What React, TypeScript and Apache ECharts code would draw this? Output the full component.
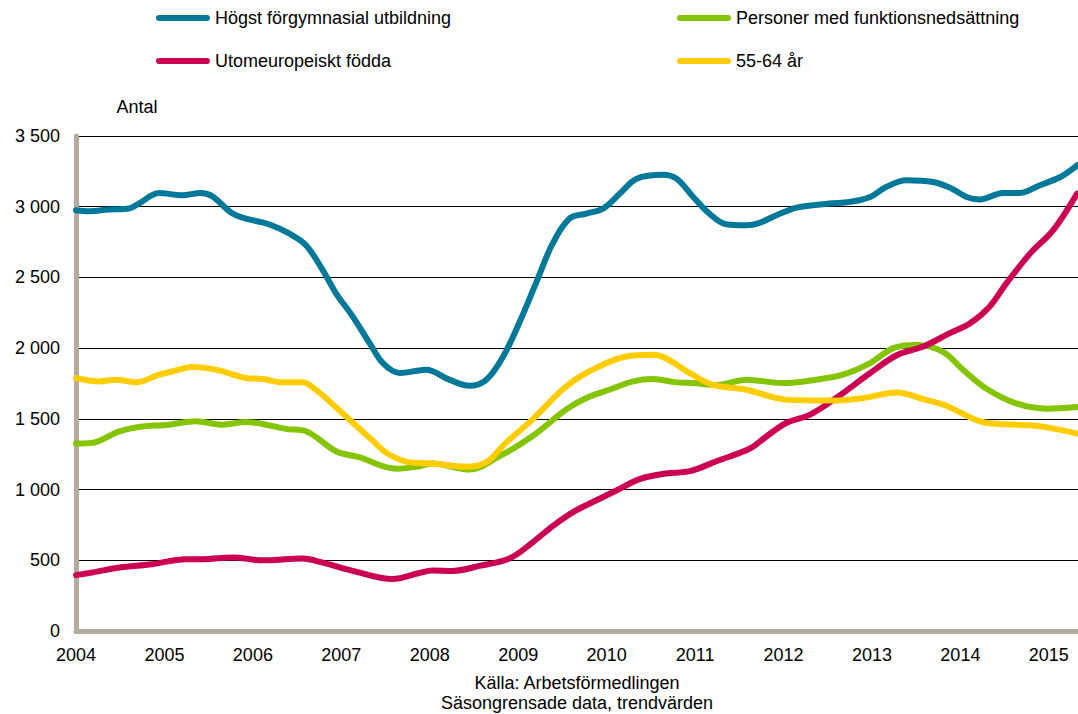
import React, { useEffect, useRef } from "react";
import * as echarts from "echarts";

// x positions are decimal years, values are "Antal"
const blueX = [2004.0, 2004.15, 2004.37, 2004.6, 2004.71, 2004.94, 2005.2, 2005.41, 2005.54, 2005.77, 2005.96, 2006.18, 2006.41, 2006.6, 2006.79, 2006.94, 2007.13, 2007.32, 2007.47, 2007.66, 2007.96, 2008.22, 2008.45, 2008.64, 2008.83, 2009.01, 2009.2, 2009.39, 2009.58, 2009.77, 2009.96, 2010.15, 2010.34, 2010.64, 2010.79, 2010.98, 2011.16, 2011.35, 2011.58, 2011.73, 2011.92, 2012.15, 2012.52, 2012.75, 2012.98, 2013.16, 2013.39, 2013.69, 2013.88, 2014.07, 2014.22, 2014.48, 2014.67, 2014.9, 2015.13, 2015.32];
const blueY = [2975, 2968, 2980, 2987, 3022, 3097, 3081, 3097, 3074, 2952, 2910, 2876, 2811, 2728, 2552, 2388, 2223, 2035, 1894, 1824, 1847, 1777, 1734, 1777, 1941, 2176, 2458, 2740, 2916, 2952, 2987, 3093, 3198, 3226, 3198, 3069, 2952, 2876, 2869, 2886, 2940, 2994, 3022, 3034, 3069, 3140, 3187, 3175, 3135, 3069, 3051, 3097, 3097, 3152, 3210, 3293];

const greenX = [2004.0, 2004.18, 2004.49, 2004.71, 2005.05, 2005.35, 2005.66, 2005.92, 2006.11, 2006.37, 2006.6, 2006.94, 2007.2, 2007.62, 2007.88, 2008.03, 2008.45, 2008.79, 2009.16, 2009.54, 2009.77, 2010.03, 2010.3, 2010.52, 2010.79, 2010.98, 2011.24, 2011.58, 2011.99, 2012.37, 2012.67, 2012.98, 2013.24, 2013.5, 2013.8, 2014.03, 2014.3, 2014.64, 2014.98, 2015.32];
const greenY = [1325, 1330, 1412, 1443, 1459, 1483, 1459, 1478, 1464, 1429, 1412, 1271, 1229, 1147, 1165, 1185, 1142, 1236, 1377, 1565, 1648, 1706, 1765, 1782, 1758, 1753, 1740, 1777, 1753, 1777, 1812, 1894, 2000, 2023, 1976, 1847, 1711, 1607, 1572, 1584];

const redX = [2004.0, 2004.22, 2004.49, 2004.86, 2005.24, 2005.43, 2005.77, 2006.11, 2006.56, 2006.79, 2007.13, 2007.58, 2007.88, 2008.03, 2008.26, 2008.56, 2008.9, 2009.16, 2009.39, 2009.62, 2009.92, 2010.15, 2010.38, 2010.67, 2010.94, 2011.24, 2011.62, 2011.81, 2012.03, 2012.3, 2012.6, 2012.98, 2013.28, 2013.58, 2013.88, 2014.11, 2014.33, 2014.52, 2014.79, 2015.05, 2015.32];
const redY = [395, 418, 449, 472, 508, 508, 520, 500, 512, 484, 425, 367, 410, 428, 425, 460, 512, 625, 742, 841, 935, 1006, 1076, 1114, 1130, 1200, 1290, 1377, 1471, 1530, 1650, 1824, 1950, 2011, 2106, 2176, 2293, 2458, 2670, 2834, 3093];

const yellowX = [2004.0, 2004.26, 2004.45, 2004.68, 2004.94, 2005.09, 2005.32, 2005.62, 2005.92, 2006.11, 2006.34, 2006.56, 2006.71, 2007.01, 2007.32, 2007.54, 2007.81, 2008.03, 2008.41, 2008.64, 2008.86, 2009.16, 2009.5, 2009.77, 2010.22, 2010.52, 2010.67, 2010.94, 2011.2, 2011.58, 2012.03, 2012.56, 2012.9, 2013.28, 2013.58, 2013.84, 2014.26, 2014.79, 2015.01, 2015.32];
const yellowY = [1789, 1765, 1777, 1758, 1812, 1835, 1866, 1842, 1789, 1782, 1758, 1758, 1706, 1542, 1366, 1248, 1189, 1184, 1161, 1194, 1330, 1495, 1706, 1824, 1941, 1953, 1929, 1824, 1741, 1706, 1636, 1629, 1647, 1687, 1640, 1593, 1476, 1454, 1436, 1396];

const seriesNames = [
  "Högst förgymnasial utbildning",
  "Personer med funktionsnedsättning",
  "Utomeuropeiskt födda",
  "55-64 år",
];
const seriesColors = ["#00789a", "#84c400", "#cc0052", "#ffcc00"];
const seriesX = [blueX, greenX, redX, yellowX];
const seriesY = [blueY, greenY, redY, yellowY];

const yAxisName = "Antal";
const footerLines = ["Källa: Arbetsförmedlingen", "Säsongrensade data, trendvärden"];

const FONT = "'Liberation Sans', Arial, sans-serif";
const capsule = "path://M3,0 H51 A3,3 0 0 1 51,6 H3 A3,3 0 0 1 3,0 Z";

function fmt(v: number): string {
  if (v >= 1000) {
    return `${Math.floor(v / 1000)} ${String(v % 1000).padStart(3, "0")}`;
  }
  return String(v);
}

export default function App() {
  const ref = useRef<HTMLDivElement>(null);
  useEffect(() => {
    if (!ref.current) return;
    const chart = echarts.init(ref.current, null, { renderer: "svg" });
    const legendPos = [
      { left: 156, top: 9 },
      { left: 677, top: 9 },
      { left: 156, top: 52 },
      { left: 677, top: 52 },
    ];
    chart.setOption({
      animation: false,
      backgroundColor: "#ffffff",
      textStyle: { fontFamily: FONT },
      grid: { left: 76, right: 0, top: 136, bottom: 83, containLabel: false },
      legend: seriesNames.map((n, i) => ({
        data: [n],
        left: legendPos[i].left,
        top: legendPos[i].top,
        padding: 0,
        orient: "horizontal",
        icon: capsule,
        itemWidth: 54,
        itemHeight: 6,
        itemStyle: { borderWidth: 0 },
        textStyle: { fontSize: 18, color: "#000", fontFamily: FONT },
        selectedMode: false,
      })),
      xAxis: {
        type: "value",
        min: 2004,
        max: 2015.33,
        interval: 1,
        axisLine: { show: true, lineStyle: { color: "#b4ab9d", width: 5 } },
        axisTick: { show: false },
        splitLine: { show: false },
        axisLabel: {
          fontSize: 18,
          color: "#000",
          margin: 15,
          fontFamily: FONT,
          showMaxLabel: false,
          formatter: (v: number) => (Number.isInteger(v) ? String(v) : ""),
        },
      },
      yAxis: {
        type: "value",
        min: 0,
        max: 3500,
        interval: 500,
        axisLine: { show: true, lineStyle: { color: "#b4ab9d", width: 5 } },
        axisTick: { show: false },
        splitLine: { show: true, lineStyle: { color: "#000", width: 1 } },
        axisLabel: {
          fontSize: 18,
          color: "#000",
          margin: 16,
          fontFamily: FONT,
          formatter: (v: number) => fmt(v),
        },
      },
      graphic: [
        {
          type: "text",
          x: 137,
          y: 107,
          style: {
            text: yAxisName,
            font: `18px ${FONT}`,
            fill: "#000",
            align: "center",
            verticalAlign: "middle",
          },
        },
        {
          type: "text",
          x: 577,
          y: 683,
          style: {
            text: footerLines[0],
            font: `18px ${FONT}`,
            fill: "#000",
            align: "center",
            verticalAlign: "middle",
          },
        },
        {
          type: "text",
          x: 577,
          y: 703,
          style: {
            text: footerLines[1],
            font: `18px ${FONT}`,
            fill: "#000",
            align: "center",
            verticalAlign: "middle",
          },
        },
      ],
      series: seriesNames.map((n, i) => ({
        name: n,
        type: "line",
        smooth: 0.35,
        symbol: "none",
        color: seriesColors[i],
        lineStyle: { width: 6, color: seriesColors[i], cap: "round", join: "round" },
        data: seriesX[i].map((x, j) => [x, seriesY[i][j]]),
        z: 2 + i,
      })),
    });
    return () => chart.dispose();
  }, []);
  return <div ref={ref} style={{ width: 1078, height: 714, position: "absolute", left: 0, top: 0 }} />;
}
